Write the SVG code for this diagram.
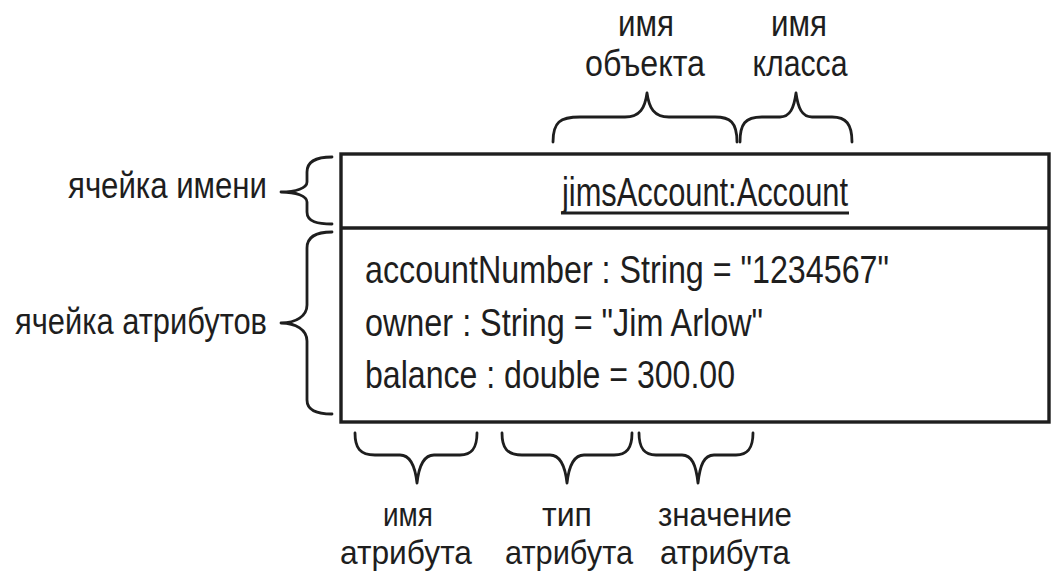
<svg xmlns="http://www.w3.org/2000/svg" width="1052" height="572" viewBox="0 0 1052 572">
<style>
text{font-family:"Liberation Sans Narrow","Liberation Sans",Arial,sans-serif;font-size:37px;fill:#1e1e1e}
.a{font-size:39px}
.t{font-size:41px}
.b{font-size:34px}
.c{text-anchor:middle}
.e{text-anchor:end}
.brace{fill:none;stroke:#1e1e1e;stroke-width:2.8;stroke-linejoin:round;stroke-linecap:round}
.box{fill:#fff;stroke:#1e1e1e;stroke-width:3.4}
</style>
<rect width="1052" height="572" fill="#fff"/>
<g id="object">
<rect class="box" x="341" y="154" width="708" height="268"/>
<line class="box" x1="341" y1="228" x2="1049" y2="228"/>
<text class="t" x="562" y="206" textLength="286" lengthAdjust="spacingAndGlyphs">jimsAccount:Account</text>
<line x1="561" y1="213" x2="849" y2="213" stroke="#1e1e1e" stroke-width="2.8"/>
<text class="a" x="365" y="283" textLength="524" lengthAdjust="spacingAndGlyphs">accountNumber : String = "1234567"</text>
<text class="a" x="365" y="336" textLength="398" lengthAdjust="spacingAndGlyphs">owner : String = "Jim Arlow"</text>
<text class="a" x="365" y="388" textLength="370" lengthAdjust="spacingAndGlyphs">balance : double = 300.00</text>
</g>
<g id="connectors">
<path class="brace" d="M553,142 C553,122 560,117 580,117 L625,117 C640,117 645,108 647,93 C649,108 654,117 669,117 L715,117 C730,117 737,122 737,142"/>
<path class="brace" d="M740,142 C740,124 745,117 762,117 L780,117 C790,117 794,108 796,93 C798,108 802,117 812,117 L832,117 C846,117 852,124 852,142"/>
<path class="brace" d="M332,157 C318,157 307,160 307,172 L307,182 C307,188 296,192 281,192 C296,192 307,196 307,202 L307,212 C307,222 318,224 332,224"/>
<path class="brace" d="M332,232 C318,232 307,236 307,248 L307,305 C307,316 296,323 281,323 C296,323 307,330 307,341 L307,400 C307,411 318,414 332,414"/>
<path class="brace" d="M355,433 C355,448 360,455 375,455 L400,455 C410,455 415,465 417,483 C419,465 424,455 434,455 L460,455 C472,455 477,448 477,433"/>
<path class="brace" d="M502,433 C502,448 507,455 522,455 L550,455 C560,455 565,465 567,483 C569,465 574,455 584,455 L614,455 C627,455 632,448 632,433"/>
<path class="brace" d="M639,433 C639,448 644,455 656,455 L682,455 C692,455 696,465 698,483 C700,465 704,455 714,455 L736,455 C748,455 753,448 753,433"/>
</g>
<g id="label-object-name">
<text class="c" x="646" y="36" textLength="56" lengthAdjust="spacingAndGlyphs">имя</text>
<text class="c" x="645" y="76" textLength="120" lengthAdjust="spacingAndGlyphs">объекта</text>
</g>
<g id="label-class-name">
<text class="c" x="799" y="36" textLength="56" lengthAdjust="spacingAndGlyphs">имя</text>
<text class="c" x="800" y="76" textLength="95" lengthAdjust="spacingAndGlyphs">класса</text>
</g>
<g id="label-name-cell">
<text class="e" x="267" y="198" textLength="199" lengthAdjust="spacingAndGlyphs">ячейка имени</text>
</g>
<g id="label-attr-cell">
<text class="e" x="267" y="334" textLength="252" lengthAdjust="spacingAndGlyphs">ячейка атрибутов</text>
</g>
<g id="label-attr-name">
<text class="c b" x="408" y="526" textLength="50" lengthAdjust="spacingAndGlyphs">имя</text>
<text class="c b" x="406" y="564" textLength="132" lengthAdjust="spacingAndGlyphs">атрибута</text>
</g>
<g id="label-attr-type">
<text class="c b" x="567" y="526" textLength="50" lengthAdjust="spacingAndGlyphs">тип</text>
<text class="c b" x="569" y="564" textLength="128" lengthAdjust="spacingAndGlyphs">атрибута</text>
</g>
<g id="label-attr-value">
<text class="c b" x="725" y="526" textLength="134" lengthAdjust="spacingAndGlyphs">значение</text>
<text class="c b" x="725" y="564" textLength="130" lengthAdjust="spacingAndGlyphs">атрибута</text>
</g>
</svg>
